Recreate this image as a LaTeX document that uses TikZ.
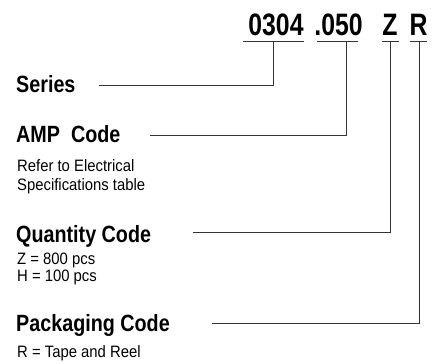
\documentclass[tikz,border=0pt]{standalone}
\usepackage{fontspec}
\setmainfont{Liberation Sans}
\newfontfamily\headfont[FakeStretch=0.84]{Liberation Sans}
\newfontfamily\codefont[FakeStretch=0.8]{Liberation Sans}
\newfontfamily\bodyfont[FakeStretch=0.9]{Liberation Sans}
\begin{document}
\begin{tikzpicture}[x=1pt,y=-1pt,
  head/.style={anchor=base west, inner sep=0pt, font=\headfont\bfseries\fontsize{23.5}{23.5}\selectfont},
  body/.style={anchor=base west, inner sep=0pt, font=\bodyfont\fontsize{16.5}{16.5}\selectfont},
  code/.style={anchor=base, inner sep=0pt, font=\codefont\bfseries\fontsize{31}{31}\selectfont},
  link/.style={draw=black!80, line width=1pt}]
\useasboundingbox (0,0) rectangle (434,364);
% part number codes
\node[code] (c1) at (276,35) {0304};
\node[code] (c2) at (338.5,35) {.050};
\node[code] (c3) at (390,35) {Z};
\node[code] (c4) at (418.5,35) {R};
% underline ends
\coordinate (u1a) at (243,41); \coordinate (u1b) at (304,41);
\coordinate (u2a) at (317,41); \coordinate (u2b) at (358,41);
\coordinate (u3a) at (382,41); \coordinate (u3b) at (399,41);
\coordinate (u4a) at (410,41); \coordinate (u4b) at (427,41);
\draw[link] (u1a) -- (u1b);
\draw[link] (u2a) -- (u2b);
\draw[link] (u3a) -- (u3b);
\draw[link] (u4a) -- (u4b);
% labels
\node[head] (series) at (16,92.7) {Series};
\node[head] (amp) at (16,142.5) {AMP\ \ Code};
\node[body] (amp1) at (17,171) {Refer to Electrical};
\node[body] (amp2) at (17,190) {Specifications table};
\node[head] (qty) at (16,242) {Quantity Code};
\node[body] (qty1) at (17,264) {Z = 800 pcs};
\node[body] (qty2) at (17,281) {H = 100 pcs};
\node[head] (pkg) at (16,331) {Packaging Code};
\node[body] (pkg1) at (17,357) {R = Tape and Reel};
% connectors
\coordinate (k1) at (273,41); \coordinate (e1) at (99,85);
\coordinate (k2) at (346,41); \coordinate (e2) at (150,135);
\coordinate (k3) at (390,41); \coordinate (e3) at (193,232);
\coordinate (k4) at (419,41); \coordinate (e4) at (212,323);
\draw[link] (e1) -| (k1);
\draw[link] (e2) -| (k2);
\draw[link] (e3) -| (k3);
\draw[link] (e4) -| (k4);
\end{tikzpicture}
\end{document}
